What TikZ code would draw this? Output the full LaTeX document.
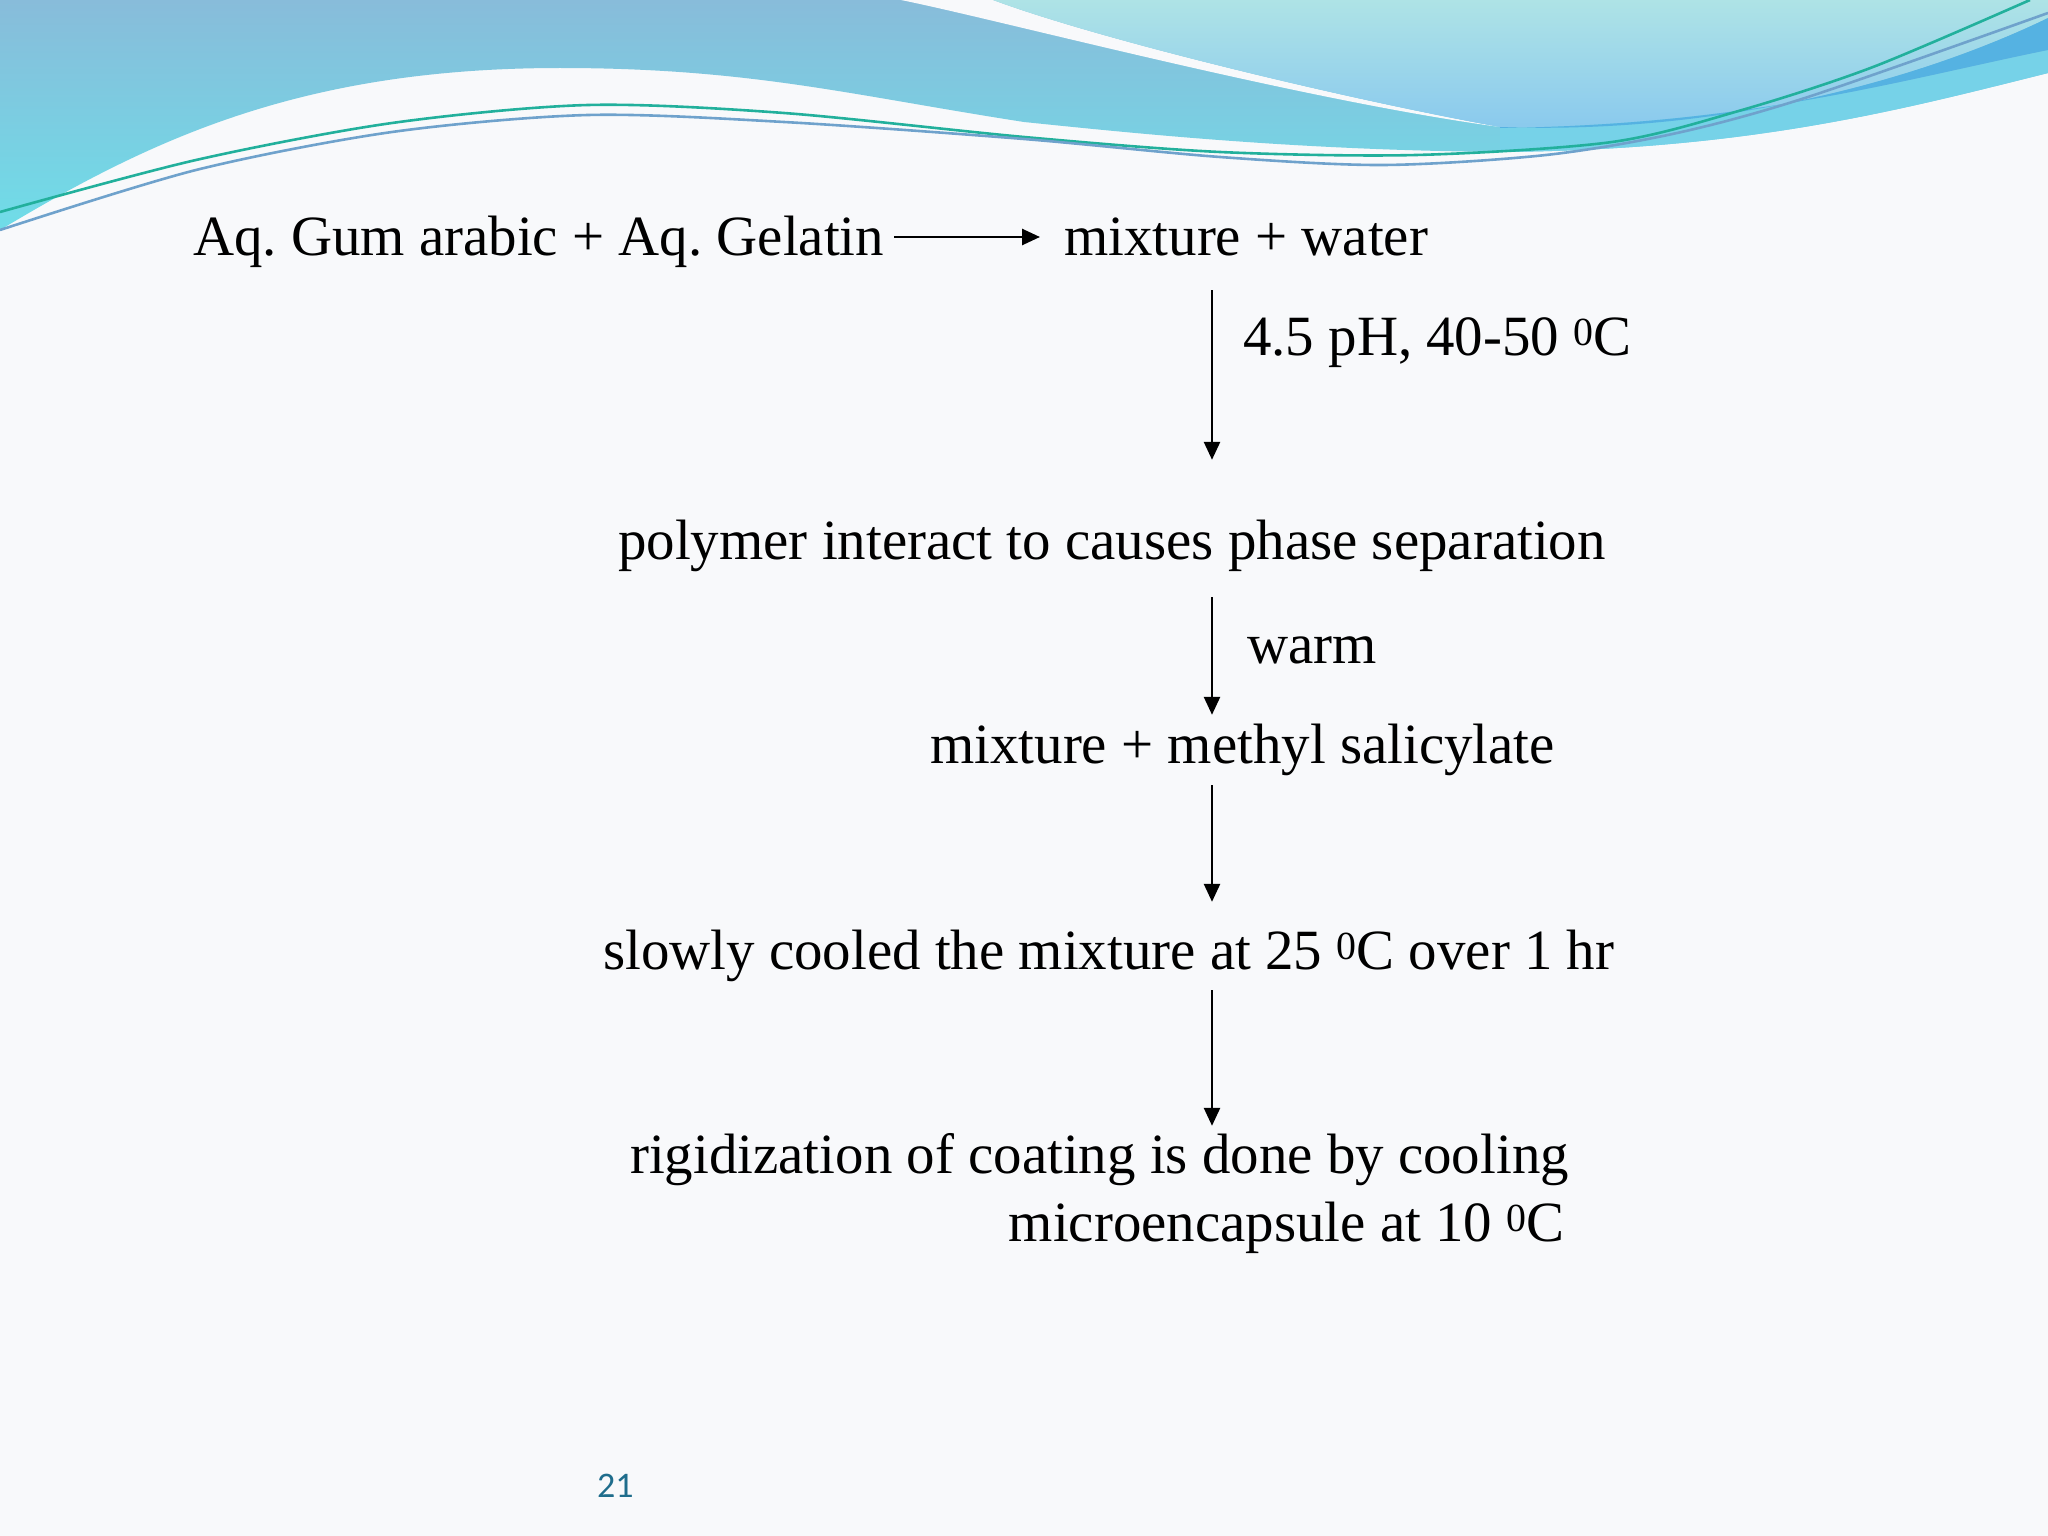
\documentclass[tikz,border=0pt]{standalone}
\usepackage{fontspec}
\setmainfont{Liberation Serif}
\newfontfamily\pgnumfont{Carlito}
\usetikzlibrary{arrows.meta}
\definecolor{bgc}{HTML}{F8F9FB}
\definecolor{waveTop}{HTML}{88BCDA}
\definecolor{waveBot}{HTML}{6FDDE8}
\definecolor{paleTop}{HTML}{AEE3E6}
\definecolor{paleBot}{HTML}{88C8EE}
\definecolor{darkBand}{HTML}{55B2E2}
\definecolor{cyanSweep}{HTML}{76D2E8}
\definecolor{lineG}{HTML}{22B09C}
\definecolor{lineB}{HTML}{6FA2CC}
\definecolor{pgc}{HTML}{1F6D8C}
\frenchspacing
\begin{document}
\begin{tikzpicture}[x=1pt,y=-1pt,
  lbl/.style={inner sep=0pt,font=\frenchspacing\fontsize{56.9}{68}\selectfont,text height=40pt,text depth=13pt},
  arr/.style={line width=2.6pt,-{Triangle[length=18pt,width=16pt]}}]
\useasboundingbox (0,0) rectangle (2048,1536);
\fill[bgc] (0,0) rectangle (2048,1536);
% big wave
\shade[top color=waveTop,bottom color=waveBot]
  (0,0) -- (2048,0) -- (2048,73)
  .. controls (1900,110) and (1750,150) .. (1500,152)
  .. controls (1300,150) and (1150,135) .. (1024,122)
  .. controls (850,95) and (750,68) .. (560,68)
  .. controls (300,68) and (150,140) .. (0,230) -- cycle;
% white band
\fill[bgc] (901,0) .. controls (1000,20) and (1300,100) .. (1500,127)
  .. controls (1350,100) and (1100,40) .. (993,0) -- cycle;
% pale region
\shade[top color=paleTop,bottom color=paleBot]
  (993,0) -- (2048,0) -- (2048,18)
  .. controls (1920,80) and (1720,135) .. (1500,127)
  .. controls (1350,100) and (1100,40) .. (993,0) -- cycle;
% cyan sweep
\fill[cyanSweep] (1500,128) .. controls (1750,125) and (1900,80) .. (2048,50)
  -- (2048,73) .. controls (1900,110) and (1750,150) .. (1500,152) -- cycle;
% dark band
\fill[darkBand] (1500,127) .. controls (1720,135) and (1920,80) .. (2048,18)
  -- (2048,50) .. controls (1900,80) and (1750,125) .. (1500,128) -- cycle;
% thin lines
\draw[lineG,line width=2.6pt] plot[smooth] coordinates {(0,212) (196,160) (392,123) (588,105) (784,113) (1024,137) (1220,152) (1416,155) (1612,142) (1742,110) (1873,67) (2030,0)};
\draw[lineB,line width=2.6pt] plot[smooth] coordinates {(0,230) (196,170) (392,132) (588,115) (784,122) (1024,139) (1220,157) (1383,165) (1546,155) (1677,133) (1808,97) (2048,13)};

% texts
\node[lbl,anchor=base west] (gum) at (193,255) {Aq. Gum arabic + Aq. Gelatin};
\node[lbl,anchor=base west] (mix) at (1064,255) {mixture + water};
\node[lbl,anchor=base west] (c1) at (1243,355) {4.5 pH, 40-50 \textsuperscript{0}C};
\node[lbl,anchor=base west] (poly) at (618,559) {polymer interact to causes phase separation};
\node[lbl,anchor=base west] (c2) at (1247,663) {warm};
\node[lbl,anchor=base west] (meth) at (930,763) {mixture + methyl salicylate};
\node[lbl,anchor=base west] (slow) at (603,969) {slowly cooled the mixture at 25 \textsuperscript{0}C over 1 hr};
\node[lbl,anchor=base east] (rig) at (1569,1173) {rigidization of coating is done by cooling};
\node[lbl,anchor=base east] (micro) at (1565,1241) {microencapsule at 10 \textsuperscript{0}C};
\node[anchor=base west,inner sep=0pt,font=\pgnumfont\fontsize{36}{40}\selectfont,text=pgc] (pg) at (597,1497) {21};

% connectors
\coordinate (ax) at (1212,0);
\draw[arr,shorten <=10pt,shorten >=24pt] ([yshift=18pt]gum.base east) -- ([yshift=18pt]mix.base west);
\draw[arr,shorten <=22pt,shorten >=59pt] (mix.south -| ax) -- (poly.north -| ax);
\draw[arr,shorten <=25pt,shorten >=8pt] (poly.south -| ax) -- (meth.north -| ax);
\draw[arr,shorten <=9pt,shorten >=27pt] (meth.south -| ax) -- (slow.north -| ax);
\draw[arr,shorten <=8pt,shorten >=7pt] (slow.south -| ax) -- (rig.north -| ax);
\end{tikzpicture}
\end{document}
